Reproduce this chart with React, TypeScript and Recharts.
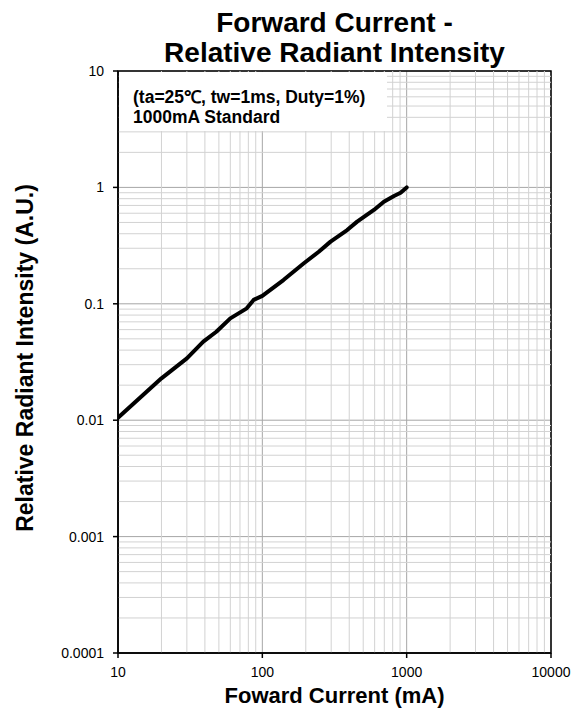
import {
  CartesianGrid,
  Label,
  Line,
  LineChart,
  ReferenceArea,
  ReferenceLine,
  XAxis,
  YAxis,
} from "recharts";

const FONT = '"Liberation Sans", Arial, sans-serif';

// forward current (mA) vs relative radiant intensity (A.U.)
const CURRENT = [10, 20, 30, 39, 48, 60, 78, 87, 100, 140, 194, 246, 297, 387, 454, 593, 695, 817, 908, 1000];
const INTENSITY = [0.0105, 0.0229, 0.034, 0.0473, 0.0575, 0.075, 0.0914, 0.108, 0.117, 0.16, 0.223, 0.28, 0.342, 0.43, 0.508, 0.64, 0.753, 0.844, 0.9, 1.0];

const X_TICKS = [10, 100, 1000, 10000];
const Y_TICKS = [0.0001, 0.001, 0.01, 0.1, 1, 10];
const MULTS = [2, 3, 4, 5, 6, 7, 8, 9];

const TITLE = ["Forward Current -", "Relative Radiant Intensity"];
const NOTE = ["(ta=25\u2103, tw=1ms, Duty=1%)", "1000mA Standard"];

const data = CURRENT.map((c, i) => ({ current: c, intensity: INTENSITY[i] }));

// minor grid values, 2..9 inside each decade
const minor = (decades: number[]) =>
  decades.slice(0, -1).flatMap((d) => MULTS.map((m) => m * d));
const X_MINOR = minor(X_TICKS);
const Y_MINOR = minor(Y_TICKS);

const fmt = (v: number) => String(v);

export default function App() {
  return (
    <div style={{ position: "absolute", left: 0, top: 0, width: 581, height: 718, background: "#fff", fontFamily: FONT }}>
      <div
        style={{
          position: "absolute",
          left: 118,
          top: 8,
          width: 433,
          textAlign: "center",
          fontWeight: "bold",
          fontSize: 28,
          lineHeight: "30px",
          color: "#000",
        }}
      >
        {TITLE.map((t) => (
          <div key={t}>{t}</div>
        ))}
      </div>
      <LineChart
        width={581}
        height={718}
        data={data}
        margin={{ top: 71, right: 30, bottom: 0, left: 0 }}
      >
        {X_MINOR.map((v) => (
          <ReferenceLine key={"x" + v} x={v} stroke="#d2d2d2" strokeWidth={1} />
        ))}
        {Y_MINOR.map((v) => (
          <ReferenceLine key={"y" + v} y={v} stroke="#d2d2d2" strokeWidth={1} />
        ))}
        <CartesianGrid stroke="#a6a6a6" strokeWidth={1} />
        <ReferenceArea x1={10} x2={10000} y1={0.0001} y2={10} fill="none" stroke="#000" strokeWidth={1.5} />
        <XAxis
          dataKey="current"
          type="number"
          scale="log"
          domain={[10, 10000]}
          ticks={X_TICKS}
          tickFormatter={fmt}
          allowDataOverflow
          height={65}
          stroke="#000"
          strokeWidth={1.5}
          tickSize={5}
          tickMargin={9}
          tick={{ fill: "#000", fontSize: 14, fontFamily: FONT }}
        >
          <Label
            value="Foward Current (mA)"
            position="insideBottom"
            offset={15}
            style={{ fontSize: 22, fontWeight: "bold", fill: "#000", fontFamily: FONT }}
          />
        </XAxis>
        <YAxis
          type="number"
          scale="log"
          domain={[0.0001, 10]}
          ticks={Y_TICKS}
          tickFormatter={fmt}
          allowDataOverflow
          width={118}
          stroke="#000"
          strokeWidth={1.5}
          tickSize={5}
          tickMargin={9}
          tick={{ fill: "#000", fontSize: 14, fontFamily: FONT }}
        >
          <Label
            content={(props: any) => {
              const vb = props.viewBox;
              const cx = vb.x + 25;
              const cy = vb.y + vb.height / 2 - 4;
              return (
                <text
                  x={cx}
                  y={cy}
                  transform={`rotate(-90, ${cx}, ${cy})`}
                  textAnchor="middle"
                  dominantBaseline="central"
                  style={{ fontSize: 23, fontWeight: "bold", fill: "#000", fontFamily: FONT }}
                >
                  Relative Radiant Intensity (A.U.)
                </text>
              );
            }}
          />
        </YAxis>
        <Line
          dataKey="intensity"
          type="linear"
          stroke="#000"
          strokeWidth={4}
          strokeLinecap="round"
          strokeLinejoin="round"
          dot={false}
          isAnimationActive={false}
        />
      </LineChart>
      <div
        style={{
          position: "absolute",
          left: 119,
          top: 72,
          width: 268,
          height: 59,
          background: "#fff",
          boxSizing: "border-box",
          paddingLeft: 14,
          paddingTop: 15,
          fontWeight: "bold",
          fontSize: 17.5,
          lineHeight: "20px",
          color: "#000",
        }}
      >
        {NOTE.map((t) => (
          <div key={t}>{t}</div>
        ))}
      </div>
    </div>
  );
}
